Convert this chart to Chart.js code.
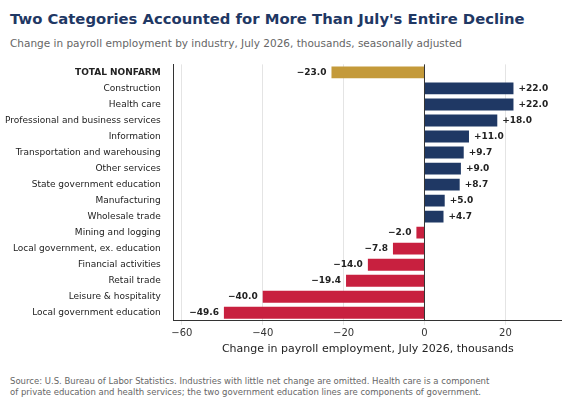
<!DOCTYPE html>
<html>
<head>
<meta charset="utf-8">
<script src="https://cdn.jsdelivr.net/npm/chart.js@4"></script>
<style>
  body { margin: 0; width: 581px; height: 404px; background: #fff; font-family: "DejaVu Sans", sans-serif; position: relative; overflow: hidden; }
  #title { position: absolute; left: 10px; top: 10px; font-size: 14.8px; font-weight: bold; color: #1f3864; }
  #subtitle { position: absolute; left: 10px; top: 37px; font-size: 10.5px; color: #666; }
  #box { position: absolute; left: 0; top: 54px; width: 562px; height: 306px; }
  #footer { position: absolute; left: 10px; top: 376px; font-size: 8.5px; color: #666; line-height: 11px; }
</style>
</head>
<body>
<div id="title">Two Categories Accounted for More Than July's Entire Decline</div>
<div id="subtitle">Change in payroll employment by industry, July 2026, thousands, seasonally adjusted</div>
<div id="box"><canvas id="chart"></canvas></div>
<div id="footer">Source: U.S. Bureau of Labor Statistics. Industries with little net change are omitted. Health care is a component<br>of private education and health services; the two government education lines are components of government.</div>
<script>
// categories and values (thousands)
const industries = ['TOTAL NONFARM', 'Construction', 'Health care', 'Professional and business services',
  'Information', 'Transportation and warehousing', 'Other services', 'State government education',
  'Manufacturing', 'Wholesale trade', 'Mining and logging', 'Local government, ex. education',
  'Financial activities', 'Retail trade', 'Leisure & hospitality', 'Local government education'];
const changes = [-23.0, 22.0, 22.0, 18.0, 11.0, 9.7, 9.0, 8.7, 5.0, 4.7, -2.0, -7.8, -14.0, -19.4, -40.0, -49.6];
const xTicks = [-60, -40, -20, 0, 20];

const colors = changes.map((v, i) => i === 0 ? '#c49a3a' : (v >= 0 ? '#1f3864' : '#c8203f'));

function fmt(v) {
  return (v >= 0 ? '+' : '\u2212') + Math.abs(v).toFixed(1);
}

const valueLabels = {
  id: 'valueLabels',
  afterDatasetsDraw(chart) {
    const ctx = chart.ctx;
    const meta = chart.getDatasetMeta(0);
    ctx.save();
    ctx.font = 'bold 9px "DejaVu Sans"';
    ctx.fillStyle = '#222';
    ctx.textBaseline = 'middle';
    meta.data.forEach((bar, i) => {
      const v = changes[i];
      if (v >= 0) { ctx.textAlign = 'left'; ctx.fillText(fmt(v), bar.x + 5, bar.y); }
      else { ctx.textAlign = 'right'; ctx.fillText(fmt(v), bar.x - 5, bar.y); }
    });
    // zero line
    const xs = chart.scales.x;
    const x0 = xs.getPixelForValue(0);
    ctx.strokeStyle = '#333';
    ctx.lineWidth = 1;
    ctx.beginPath();
    ctx.moveTo(x0, chart.chartArea.top);
    ctx.lineTo(x0, chart.chartArea.bottom);
    ctx.stroke();
    ctx.restore();
  }
};

new Chart(document.getElementById('chart'), {
  type: 'bar',
  data: {
    labels: industries,
    datasets: [{ data: changes, backgroundColor: colors, barPercentage: 0.78, categoryPercentage: 0.95 }]
  },
  options: {
    indexAxis: 'y',
    responsive: true,
    maintainAspectRatio: false,
    animation: false,
    layout: { padding: { left: 0, right: 0 } },
    plugins: { legend: { display: false }, tooltip: { enabled: false } },
    scales: {
      x: {
        min: -62, max: 34,
        afterBuildTicks: (s) => { s.ticks = xTicks.map(v => ({ value: v })); },
        ticks: { color: '#333', font: { size: 10, family: 'DejaVu Sans' },
          callback: (v) => v < 0 ? '\u2212' + Math.abs(v) : String(v) },
        grid: { color: '#e4e4e4', drawTicks: true, tickLength: 4 },
        border: { color: '#333' },
        title: { display: true, text: 'Change in payroll employment, July 2026, thousands',
          color: '#222', font: { size: 11, family: 'DejaVu Sans' }, padding: { top: 0 } }
      },
      y: {
        grid: { display: false },
        border: { color: '#333' },
        ticks: { color: '#222', padding: 5,
          font: (c) => ({ size: 9, family: 'DejaVu Sans', weight: c.index === 0 ? 'bold' : 'normal' }) }
      }
    }
  },
  plugins: [valueLabels]
});
</script>
</body>
</html>
